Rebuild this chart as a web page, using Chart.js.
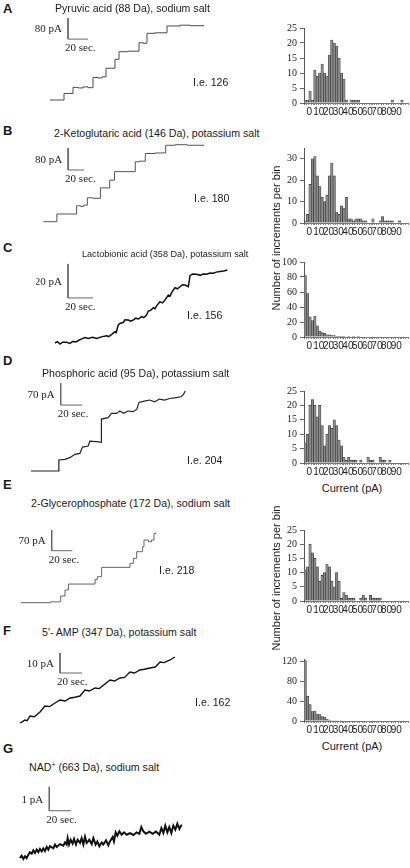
<!DOCTYPE html>
<html>
<head>
<meta charset="utf-8">
<title>Increment traces and histograms</title>
<script src="https://cdn.jsdelivr.net/npm/chart.js"></script>
<style>
  body { margin: 0; background: #fff; }
  #fig { position: relative; width: 410px; height: 868px; overflow: hidden;
         font-family: "Liberation Sans", Arial, sans-serif; color: #1a1a1a; }
  #fig canvas { position: absolute; }
  .txt { position: absolute; white-space: nowrap; font-size: 10.6px; line-height: 1; transform: translateY(-50%); }
  .small { font-size: 9.1px; }
  .lett { font-weight: bold; font-size: 13px; }
  .rot { position: absolute; white-space: nowrap; font-size: 11px; line-height: 1;
         transform: translate(-50%, -50%) rotate(-90deg); }
  .ctr { position: absolute; white-space: nowrap; font-size: 11px; line-height: 1; transform: translate(-50%, -50%); }
  sup { font-size: 7px; vertical-align: 4px; }
</style>
</head>
<body>
<div id="fig"></div>

<script>
// ---- histogram data (counts per bin, bins of 2.25 pA) ----
const binWidth = 2.25;
const xTicks = [0, 10, 20, 30, 40, 50, 60, 70, 80, 90];
const histA = [1,1,4,1,11, 9,10,13,10,9, 16,21,20,19,15, 10,8,1,0,1, 1,1,1,0,0, 0,0,0,0,0, 0,0,0,0,0, 0,1,0,0,0, 1,0,0];
const histB = [1,4,18,30,31, 22,17,12,10,13, 22,28,22,5,4, 8,7,12,2,2, 1,2,2,2,1, 1,0,0,2,0, 0,1,3,1,1, 1,1,0,0,1, 0,0,0];
const histC = [82,58,27,22,28, 15,8,6,5,3, 3,2,2,1,1, 1,1,0,1,0, 1,0,1,0,0, 0,0,0,0,0, 0,0,0,0,0, 0,0,0,0,0, 0,0,0];
const histD = [7,10,20,22,20, 16,20,13,6,10, 13,12,15,13,8, 6,2,1,2,1, 1,1,0,1,0, 0,2,1,1,0, 0,2,1,1,0, 1,0,0,0,0, 0,0,0];
const histE = [11,12,20,17,15, 12,7,9,10,13, 12,7,5,10,7, 1,3,2,1,1, 1,0,0,1,2, 1,0,2,1,1, 1,1,0,0,0, 0,0,0,0,0, 0,0,0];
const histF = [122,50,33,19,20, 14,13,9,8,4, 2,1,1,1,0, 1,0,0,0,0, 0,0,0,0,0, 0,0,0,0,0, 0,0,0,0,0, 0,0,0,0,0, 0,0,0];
const yTicksA = [0, 5, 10, 15, 20, 25];
const yTicksB = [0, 10, 20, 30];
const yTicksC = [0, 20, 40, 60, 80, 100];
const yTicksD = [0, 5, 10, 15, 20, 25];
const yTicksE = [0, 5, 10, 15, 20, 25];
const yTicksF = [0, 40, 80, 120];

// ---- current traces: [time (s), current (pA)] ----
const traceA = [[0,0],[14,25],[23,48],[28,46],[33,50],[38,47],[43,86],[48,84],[52,88],[56,121],[65,155],[69,184],[78,186],
  [89,218],[93,216],[97,254],[105,256],[117,282],[130,285],[140,283],[154,282]];
const traceB = [[0,0],[17,28],[41.6,58],[47,55],[50,60],[55,87],[62,85],[71.4,123],[83,151],[89,182],[115,218],[120,220],
  [127.5,248],[140,250],[153,278],[165,280],[180,278],[201,278]];
const traceC = [[0,0],[2,0.8],[4,-0.6],[6,0.5],[9.4,0.4],[12,-0.3],[14,0.9],[17.3,0.8],[19,1.6],[21.4,2.4],[24,3.2],[26.6,2.7],
  [30,3.4],[33.4,2.7],[37,3.6],[41.3,4.3],[43,3.8],[45.4,5.1],[48,6.7],[49,6.2],[50.6,10.6],[52,11.5],[54.7,12.2],[56,13.6],
  [58.7,13.5],[60.5,12.8],[62.6,13.5],[64.5,14.6],[66.7,14.1],[69.4,15.5],[71,15],[73.3,16.5],[74.6,18.8],[76.5,19.2],
  [78.7,20.8],[80,20.2],[81.4,22],[84,24.3],[86,23.6],[88,25.3],[90.7,28.2],[92,27.6],[93.4,29.8],[96,32.5],[98,31.9],
  [100,33.1],[102,34.3],[104,34.1],[106.7,33.1],[108,39.6],[110,40.6],[113.3,40.4],[116,39.8],[118.5,40.6],[121.3,40.4],
  [124,41.2],[126.7,41],[129,41.7],[132,42],[135,42.3],[137.9,42.9]];
const traceD = [[0,0],[25.8,0],[25.8,35],[31.4,37],[36,42.4],[40.6,53],[45.2,56],[47.7,76],[52.9,79.5],[54.5,95.4],
  [60.6,93.3],[65.2,91.2],[65.2,165.4],[71.4,170],[74.5,183.5],[79,183.5],[82.2,191],[85.8,183.5],[89.8,191],[94.5,189],
  [98,197],[100,218.5],[105,222.7],[109.8,226],[114.5,220.6],[119,229],[123.7,226],[128.3,231],[133,233],[139,236.5],
  [141.2,244],[142.8,254.5]];
const traceE = [[0,0],[29,3],[38.8,22.5],[43,42.8],[46.3,63],[72.2,78.8],[74.4,87.8],[78.6,119.4],[106.1,132.9],
  [109.4,149.8],[112.6,172.3],[118.4,189.2],[119.7,211.7],[124,206],[127,212],[129.4,234.2],[131.4,236.5]];
const traceF = [[0,0],[2,0.6],[4.5,1.5],[6.5,1.2],[9.1,3.5],[13,3.1],[18.2,5.5],[22.7,8.5],[27,8.2],[31.8,10],[36.4,11.5],
  [41,11],[45.5,12.5],[50,12.9],[54.5,13.5],[59.1,16.5],[63,16],[68.2,17.5],[72,17.2],[77.3,19.5],[81.8,21.5],[86,21],
  [90.9,22.5],[95,22.8],[100,25.5],[104,25],[109,26.5],[113,26.9],[118.2,27.5],[123,28],[127.3,30.5],[131,30.2],
  [136.4,31.5],[140.9,33]];
const traceG = [[0,0],[1.5,0.10],[3.1,-0.04],[4.6,0.07],[6.1,-0.01],[7.7,0.14],[9.2,0.24],[10.8,0.18],[12.3,0.32],
  [13.8,0.21],[15.4,0.35],[16.9,0.24],[18.4,0.38],[20,0.28],[21.5,0.40],[23,0.29],[24.6,0.46],[26.1,0.35],[27.6,0.49],
  [30.7,0.40],[32.3,0.56],[33.8,0.46],[36.9,0.58],[39.9,0.51],[41.5,0.65],[43,0.56],[43.9,0.83],[45.2,0.56],[46.7,0.76],
  [48.5,0.60],[49.8,0.79],[51.6,0.56],[53.1,0.76],[55.3,0.63],[56.8,0.83],[58.4,0.56],[59.9,0.88],[61.4,0.63],[63.9,0.76],
  [66.1,0.58],[67.6,0.83],[69.7,0.56],[71.3,0.69],[73.1,0.49],[75.3,0.65],[76.8,0.56],[79.3,0.74],[81.4,0.53],[82.9,0.69],
  [85.4,0.88],[86.6,0.69],[88.2,1.07],[89.7,0.93],[91.6,1.11],[93.7,0.97],[95.9,1.07],[98.3,0.97],[101.4,1.04],
  [104.5,0.96],[107.5,1.07],[110,1.01],[111.8,1.29],[113.7,1.11],[116.1,1.01],[119.2,1.10],[122.3,1.01],[125.3,1.10],
  [128.4,0.97],[130.3,1.25],[132.1,1.04],[133.9,1.35],[135.8,1.07],[137.6,1.29],[139.5,1.04],[141.3,1.35],[143.2,1.18],
  [145,1.43],[146.9,1.21],[149,1.39]];

// scale bars: [time origin (s), current origin (pA), pA length, sec length]
const scaleBarA = [18, 232, 80, 20];
const scaleBarB = [31, 188, 80, 20];
const scaleBarC = [10.4, 26.5, 20, 20];
const scaleBarD = [27.5, 210, 70, 20];
const scaleBarE = [30.1, 175.7, 70, 20];
const scaleBarF = [36.4, 25, 10, 20];
const scaleBarG = [27, 1.97, 1, 20];

// ---- layout (pixels) ----
const fig = document.getElementById('fig');

function addText(cls, x, y, html) {
  const d = document.createElement('div');
  d.className = cls;
  d.style.left = x + 'px';
  d.style.top = y + 'px';
  d.innerHTML = html;
  fig.appendChild(d);
}

function addCanvas(left, top, w, h) {
  const c = document.createElement('canvas');
  c.width = w; c.height = h;
  c.style.left = left + 'px'; c.style.top = top + 'px';
  c.style.width = w + 'px'; c.style.height = h + 'px';
  fig.appendChild(c);
  return c;
}

const barLabels = {
  id: 'barLabels',
  afterDatasetsDraw(chart, args, opts) {
    const { ctx, scales: { x, y } } = chart;
    const [t0, i0, pA, sec] = opts.bar;
    const bx = x.getPixelForValue(t0);
    const yb = y.getPixelForValue(i0);
    const yt = y.getPixelForValue(i0 + pA);
    ctx.save();
    ctx.font = '11px "Liberation Serif", "Times New Roman", serif';
    ctx.fillStyle = '#222';
    ctx.textAlign = 'right';
    ctx.textBaseline = 'middle';
    ctx.fillText(pA + ' pA', bx - 6, (yb + yt) / 2 + 1);
    ctx.textAlign = 'left';
    ctx.textBaseline = 'top';
    ctx.fillText(sec + ' sec.', bx - 3, yb + 4);
    ctx.restore();
  }
};

// box = [left, top, w, h], origin = pixel of (0 s, 0 pA)
function makeTrace(box, origin, pxPerSec, pxPerPA, trace, bar, stepped, color, width) {
  const [left, top, w, h] = box;
  const c = addCanvas(left, top, w, h);
  new Chart(c, {
    type: 'line',
    data: {
      datasets: [
        { data: trace.map(p => ({ x: p[0], y: p[1] })), borderColor: color, borderWidth: width,
          pointRadius: 0, stepped: stepped, tension: 0 },
        { data: [{ x: bar[0], y: bar[1] + bar[2] }, { x: bar[0], y: bar[1] }, { x: bar[0] + bar[3], y: bar[1] }],
          borderColor: '#666', borderWidth: 1, pointRadius: 0 }
      ]
    },
    options: {
      responsive: false, animation: false, events: [],
      layout: { padding: 0 },
      scales: {
        x: { type: 'linear', display: false,
             min: (left - origin[0]) / pxPerSec, max: (left + w - origin[0]) / pxPerSec },
        y: { type: 'linear', display: false,
             min: (origin[1] - (top + h)) / pxPerPA, max: (origin[1] - top) / pxPerPA }
      },
      plugins: { legend: { display: false }, tooltip: { enabled: false }, barLabels: { bar: bar } }
    },
    plugins: [barLabels]
  });
}

// topY = pixel of y max, zeroY = pixel of 0
function makeHist(topY, zeroY, hist, yMax, yTicks) {
  const padTop = 6, xAxisH = 14;
  const c = addCanvas(270, topY - padTop, 140, padTop + (zeroY - topY) + xAxisH);
  new Chart(c, {
    type: 'bar',
    data: {
      labels: hist.map((_, i) => i),
      datasets: [{ data: hist, backgroundColor: '#8a8a8a', borderColor: '#333', borderWidth: 0.6,
                   barPercentage: 1, categoryPercentage: 1 }]
    },
    options: {
      responsive: false, animation: false, events: [],
      layout: { padding: { top: padTop, right: 2, left: 0, bottom: 0 } },
      scales: {
        // one small tick per bin, like the dotted base line of the original
        x: { type: 'category', position: 'bottom', offset: true,
             afterFit: s => { s.height = 0; },
             ticks: { display: false },
             grid: { drawOnChartArea: false, tickLength: 2, color: '#888' },
             border: { display: false } },
        x2: { type: 'linear', position: 'bottom', min: 0, max: hist.length * binWidth,
              afterBuildTicks: s => { s.ticks = xTicks.map(v => ({ value: v })); },
              afterFit: s => { s.height = xAxisH; },
              grid: { drawOnChartArea: false, tickLength: 2, color: '#777' },
              border: { color: '#777' },
              ticks: { autoSkip: false, maxRotation: 0, padding: 1, color: '#222',
                       font: { family: 'Liberation Sans', size: 10 } } },
        y: { min: 0, max: yMax,
             afterBuildTicks: s => { s.ticks = yTicks.map(v => ({ value: v })); },
             afterFit: s => { s.width = 34; },
             grid: { drawOnChartArea: false, tickLength: 4, color: '#666' },
             border: { color: '#555' },
             ticks: { autoSkip: false, padding: 3, color: '#222',
                      font: { family: 'Liberation Serif', size: 10 } } }
      },
      plugins: { legend: { display: false }, tooltip: { enabled: false } }
    }
  });
}

// traces
makeTrace([28, 12, 185, 95], [50, 100], 1.0, 0.2625, traceA, scaleBarA, 'before', '#4a4a4a', 1);
makeTrace([28, 140, 180, 90], [43.3, 221.7], 0.8, 0.275, traceB, scaleBarB, 'before', '#555', 1);
makeTrace([36, 255, 200, 95], [55, 343], 1.25, 1.7, traceC, scaleBarC, false, '#111', 1.5);
makeTrace([20, 375, 175, 105], [31, 471], 1.08, 0.314, traceD, scaleBarD, false, '#222', 1.2);
makeTrace([10, 520, 155, 90], [20.7, 602.7], 1.03, 0.296, traceE, scaleBarE, 'before', '#555', 0.9);
makeTrace([10, 645, 175, 85], [20, 723], 1.1, 2.0, traceF, scaleBarF, false, '#111', 1.4);
makeTrace([10, 780, 185, 85], [20, 858], 1.085, 24, traceG, scaleBarG, false, '#111', 2);

// histograms
makeHist(25, 103, histA, 25, yTicksA);
makeHist(145, 223, histB, 35, yTicksB);
makeHist(259, 337, histC, 100, yTicksC);
makeHist(388, 463, histD, 25, yTicksD);
makeHist(527, 601, histE, 25, yTicksE);
makeHist(655.5, 721, histF, 125, yTicksF);

// panel letters and titles
addText('txt lett', 3, 8, 'A');
addText('txt', 55, 8, 'Pyruvic acid (88 Da), sodium salt');
addText('txt lett', 3, 130, 'B');
addText('txt', 54, 133, '2-Ketoglutaric acid (146 Da), potassium salt');
addText('txt lett', 3, 247, 'C');
addText('txt small', 82, 255, 'Lactobionic acid (358 Da), potassium salt');
addText('txt lett', 3, 360, 'D');
addText('txt', 42, 373, 'Phosphoric acid (95 Da), potassium salt');
addText('txt lett', 3, 484, 'E');
addText('txt', 31, 503, '2-Glycerophosphate (172 Da), sodium salt');
addText('txt lett', 3, 630, 'F');
addText('txt', 42, 632, '5\'- AMP (347 Da), potassium salt');
addText('txt lett', 3, 748, 'G');
addText('txt', 29, 767, 'NAD<sup>+</sup> (663 Da), sodium salt');

addText('txt', 193, 82, 'I.e. 126');
addText('txt', 194, 198, 'I.e. 180');
addText('txt', 187, 315, 'I.e. 156');
addText('txt', 187, 460, 'I.e. 204');
addText('txt', 159, 570, 'I.e. 218');
addText('txt', 195, 702, 'I.e. 162');

addText('rot', 276, 238, 'Number of increments per bin');
addText('rot', 276, 578, 'Number of increments per bin');
addText('ctr', 352, 488, 'Current (pA)');
addText('ctr', 352, 746, 'Current (pA)');
</script>
</body>
</html>
